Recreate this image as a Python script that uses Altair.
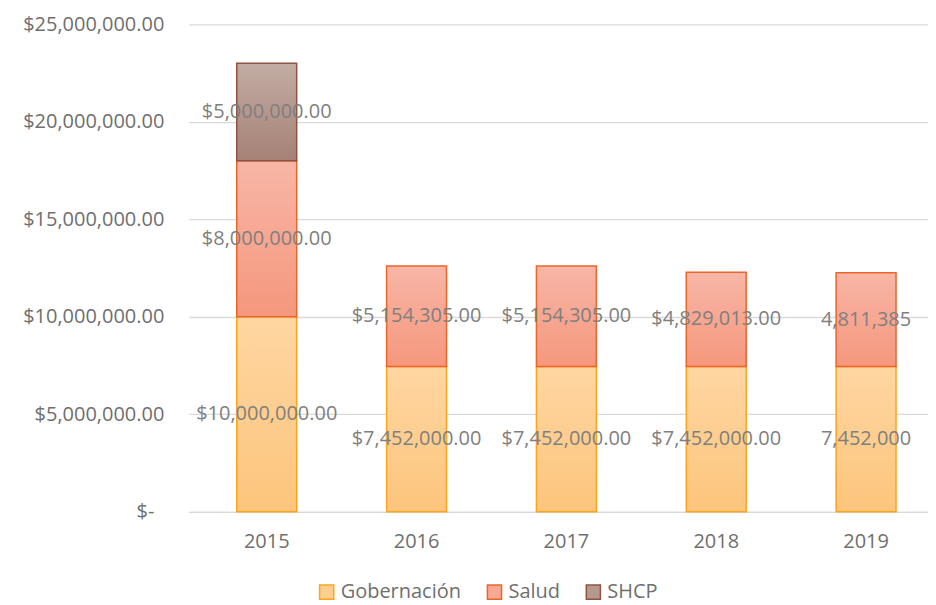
import altair as alt
import pandas as pd

years = ["2015", "2016", "2017", "2018", "2019"]
series = ["Gobernación", "Salud", "SHCP"]
gob_values = [10000000, 7452000, 7452000, 7452000, 7452000]
salud_values = [8000000, 5154305, 5154305, 4829013, 4811385]
shcp_values = [5000000, 0, 0, 0, 0]
gob_labels = ["$10,000,000.00", "$7,452,000.00", "$7,452,000.00", "$7,452,000.00", "7,452,000"]
salud_labels = ["$8,000,000.00", "$5,154,305.00", "$5,154,305.00", "$4,829,013.00", "4,811,385"]
shcp_labels = ["$5,000,000.00", "", "", "", ""]

rows = []
for i, y in enumerate(years):
    for k, (s, vals, labs) in enumerate(zip(series, [gob_values, salud_values, shcp_values],
                                            [gob_labels, salud_labels, shcp_labels])):
        if vals[i] > 0:
            rows.append({"year": y, "series": s, "order": k, "value": vals[i], "label": labs[i]})
df = pd.DataFrame(rows)

fills = {
    "Gobernación": ("#FFD6A2", "#FCC57C"),
    "Salud": ("#F8B6A6", "#F5977D"),
    "SHCP": ("#C2ACA4", "#A68175"),
}
strokes = {"Gobernación": "#FBA51F", "Salud": "#E9662B", "SHCP": "#8B5542"}
legend_fills = ["#FECE8E", "#F7A792", "#B5988E"]
legend_strokes = [strokes[s] for s in series]

FONT = "Open Sans"
FS = 20
AXIS_COLOR = "#6f6f6f"

base = alt.Chart(df).transform_stack(
    stack="value", groupby=["year"], as_=["y0", "y1"], sort=[alt.SortField("order")]
).transform_calculate(mid="(datum.y0 + datum.y1) / 2")

x_scale = alt.Scale(paddingInner=0.6, paddingOuter=0.2667, align=0.6)
x_enc = alt.X("year:N", title=None, sort=years, scale=x_scale,
              axis=alt.Axis(labelFontSize=FS, labelColor=AXIS_COLOR, labelFont=FONT,
                            ticks=False, domainColor="#d9d9d9", domainWidth=1.3,
                            labelPadding=20, labelAngle=0))
y_scale = alt.Scale(domain=[0, 25000000])

layers = []
for s in series:
    top, bot = fills[s]
    grad = alt.Gradient(gradient="linear", x1=0, y1=0, x2=0, y2=1,
                        stops=[alt.GradientStop(color=top, offset=0),
                               alt.GradientStop(color=bot, offset=1)])
    layers.append(
        base.transform_filter(alt.datum.series == s).mark_bar(
            fill=grad, stroke=strokes[s], strokeWidth=1.5
        ).encode(
            x=x_enc,
            y=alt.Y("y1:Q", scale=y_scale, title=None,
                    axis=alt.Axis(values=[0, 5000000, 10000000, 15000000, 20000000, 25000000],
                                  labelExpr="datum.value == 0 ? '$-' : '$' + format(datum.value, ',.2f')",
                                  labelFontSize=FS, labelColor=AXIS_COLOR, labelFont=FONT,
                                  ticks=False, domain=False,
                                  labelPadding={"condition": {"test": "datum.value == 0", "value": 35},
                                                "value": 25},
                                  gridColor="#d9d9d9", gridWidth=1.3)),
            y2="y0:Q",
        )
    )

leg = alt.Legend(title=None, orient="none", legendX=128, legendY=558, direction="horizontal",
                 symbolType="square", symbolSize=200, symbolOpacity=1,
                 symbolStrokeWidth=1.5, labelFontSize=FS,
                 labelColor=AXIS_COLOR, labelFont=FONT,
                 columnPadding=22, labelOffset=4)

legend_layer = alt.Chart(df).mark_square(opacity=0, size=0).encode(
    x=alt.X("year:N", sort=years, scale=x_scale),
    y=alt.Y("value:Q", scale=y_scale),
    fill=alt.Fill("series:N", sort=series,
                  scale=alt.Scale(domain=series, range=legend_fills), legend=leg),
    stroke=alt.Stroke("series:N", sort=series,
                      scale=alt.Scale(domain=series, range=legend_strokes), legend=leg),
)

text_layer = base.mark_text(fontSize=FS, color="#7f7f7f", font=FONT).encode(
    x=alt.X("year:N", sort=years, scale=x_scale),
    y=alt.Y("mid:Q", scale=y_scale),
    text="label:N",
)

chart = alt.layer(*layers, legend_layer, text_layer).properties(
    width=740, height=488,
    padding={"left": 14, "top": 6, "right": 0, "bottom": 8},
).configure_view(stroke=None)

chart.save("out.html", embed_options={"renderer": "svg", "actions": False})
